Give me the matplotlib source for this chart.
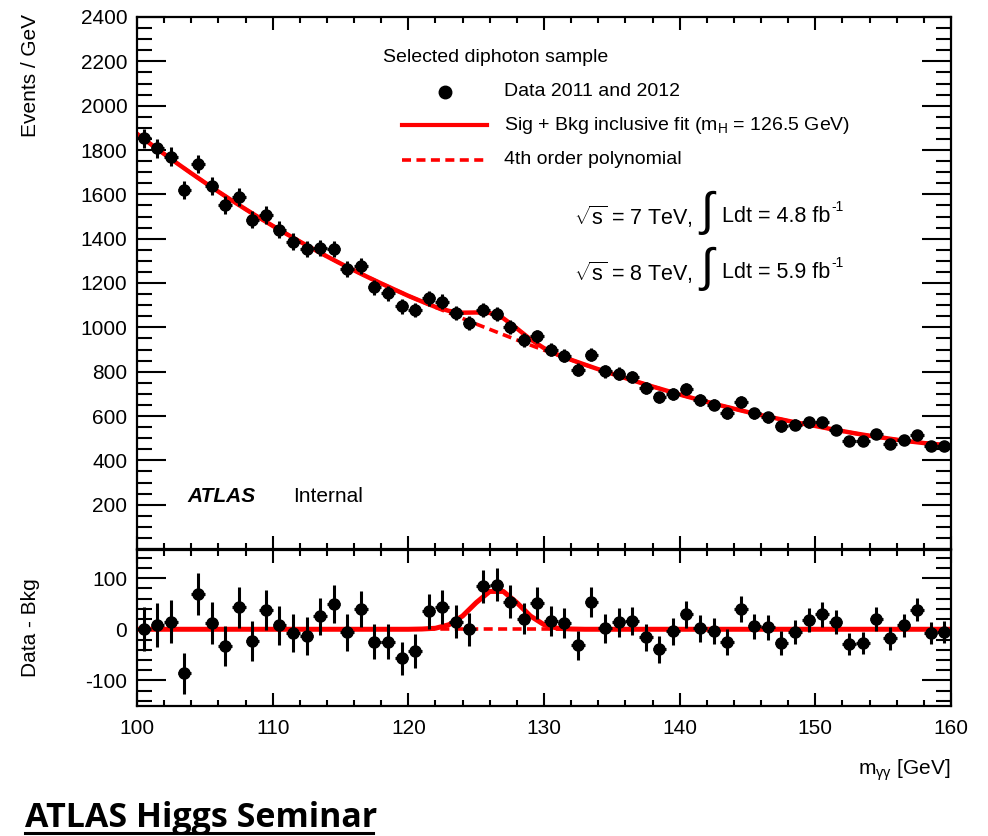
import numpy as np
import matplotlib
matplotlib.use("Agg")
import matplotlib.pyplot as plt
from matplotlib import font_manager
from matplotlib.ticker import MultipleLocator, FuncFormatter
from matplotlib.lines import Line2D

plt.rcParams['font.family'] = ['Liberation Sans', 'DejaVu Sans']
plt.rcParams['mathtext.fontset'] = 'custom'
plt.rcParams['mathtext.rm'] = 'Liberation Sans'
plt.rcParams['mathtext.it'] = 'Liberation Sans:italic'
plt.rcParams['mathtext.bf'] = 'Liberation Sans:bold'
plt.rcParams['mathtext.sf'] = 'Liberation Sans'
plt.rcParams['axes.unicode_minus'] = False

# ---------------- data ----------------
bin_lo, bin_hi = 100, 160
bin_centers = np.arange(bin_lo + 0.5, bin_hi, 1.0)

events = [1853, 1808, 1770, 1620, 1737, 1638, 1552, 1587, 1485, 1507,
          1440, 1387, 1352, 1357, 1353, 1262, 1277, 1181, 1154, 1094,
          1079, 1132, 1116, 1064, 1019, 1079, 1061, 1001, 944, 959,
          900, 872, 809, 876, 801, 791, 776, 726, 684, 699,
          722, 673, 651, 613, 663, 613, 595, 553, 561, 571,
          571, 538, 489, 485, 520, 474, 493, 516, 463, 463]

residuals = [0, 8, 15, -86, 69, 12, -33, 43, -23, 37,
             8, -8, -13, 25, 49, -6, 40, -24, -24, -57,
             -43, 35, 43, 15, 0, 84, 87, 54, 21, 51,
             16, 12, -31, 53, 2, 14, 16, -16, -39, -4,
             29, 2, -3, -25, 40, 6, 4, -27, -6, 18,
             29, 14, -29, -27, 20, -18, 8, 38, -8, -6]

curve_mass = np.arange(100, 161, 1.0)
bkg_curve = [1873, 1827, 1782, 1738, 1695, 1653, 1612, 1572, 1533, 1495,
             1458, 1422, 1387, 1353, 1320, 1288, 1257, 1227, 1198, 1170,
             1142, 1116, 1090, 1065, 1040, 1015, 991, 967, 943, 920,
             897, 875, 853, 832, 811, 791, 771, 752, 733, 715,
             697, 680, 664, 648, 633, 618, 604, 591, 578, 566,
             555, 543, 532, 521, 511, 502, 493, 485, 478, 472, 466]
sig_curve = [0, 0, 0, 0, 0, 0, 0, 0, 0, 0,
             0, 0, 0, 0, 0, 0, 0, 0, 0, 0,
             0, 0.5, 2, 9, 26, 52, 74, 74, 52, 26,
             9, 2, 0.5, 0, 0, 0, 0, 0, 0, 0,
             0, 0, 0, 0, 0, 0, 0, 0, 0, 0,
             0, 0, 0, 0, 0, 0, 0, 0, 0, 0, 0]

events = np.array(events, float)
residuals = np.array(residuals, float)
stat_err = np.sqrt(events)
bkg_curve = np.array(bkg_curve, float)
sig_curve = np.array(sig_curve, float)
total_curve = bkg_curve + sig_curve

# ---------------- figure ----------------
W, H = 988, 836
fig = plt.figure(figsize=(W / 100, H / 100), dpi=100)

def fx(px):
    return px / W

def fy(py):
    return 1 - py / H

left, right = 137, 951
ax1 = fig.add_axes([fx(left), fy(549), fx(right) - fx(left), fy(17) - fy(549)])
ax2 = fig.add_axes([fx(left), fy(706), fx(right) - fx(left), fy(550) - fy(706)])

red = '#ff0000'
tick_fs = 15

for ax in (ax1, ax2):
    ax.set_xlim(bin_lo, bin_hi)
    ax.xaxis.set_major_locator(MultipleLocator(10))
    ax.xaxis.set_minor_locator(MultipleLocator(2))
    ax.tick_params(axis='both', which='both', direction='in', top=True, right=True,
                   labelsize=tick_fs, width=1.5)
    ax.tick_params(axis='x', which='major', length=9.5)
    ax.tick_params(axis='x', which='minor', length=4.5)
    ax.tick_params(axis='y', which='major', length=21, pad=7)
    ax.tick_params(axis='y', which='minor', length=11)
    for s in ax.spines.values():
        s.set_linewidth(1.6)

# top panel
ax1.plot(curve_mass, bkg_curve, color=red, lw=2.6, ls=(0, (2.5, 1.5)), zorder=2)
ax1.plot(curve_mass, total_curve, color=red, lw=3.2, zorder=2)
ax1.errorbar(bin_centers, events, yerr=stat_err, xerr=0.5, fmt='o', color='black',
             ms=8, elinewidth=2.2, capsize=0, zorder=3)
ax1.set_ylim(0, 2400)
ax1.yaxis.set_major_locator(MultipleLocator(200))
ax1.yaxis.set_minor_locator(MultipleLocator(50))
ax1.yaxis.set_major_formatter(FuncFormatter(lambda v, p: '' if v <= 0 else '%d' % v))
ax1.tick_params(axis='x', labelbottom=False)

# bottom panel
ax2.plot(curve_mass, np.zeros_like(curve_mass), color=red, lw=2.6, ls=(0, (2.5, 1.5)), zorder=2)
ax2.plot(curve_mass, sig_curve, color=red, lw=3.6, zorder=2)
ax2.errorbar(bin_centers, residuals, yerr=stat_err, xerr=0.5, fmt='o', color='black',
             ms=8, elinewidth=2.2, capsize=0, zorder=3)
ax2.set_ylim(-150, 155)
ax2.yaxis.set_major_locator(MultipleLocator(100))
ax2.yaxis.set_minor_locator(MultipleLocator(20))
ax2.yaxis.set_major_formatter(FuncFormatter(lambda v, p: '%d' % v))
ax2.tick_params(axis='x', which='major', pad=9)

# axis titles
fig.text(fx(30), fy(14), 'Events / GeV', rotation=90, ha='center', va='top', fontsize=15)
fig.text(fx(30), fy(628), 'Data - Bkg', rotation=90, ha='center', va='center', fontsize=15)
fig.text(fx(950), fy(770), r'm$_{\mathrm{\gamma\gamma}}$ [GeV]', ha='right', va='center', fontsize=15)

# legend (manual)
def afx(px):
    return (px - left) / (right - left)

def afy(py):
    return (549 - py) / (549 - 17)

leg_fs = 14
T = ax1.transAxes
ax1.text(afx(383), afy(58), 'Selected diphoton sample', transform=T, ha='left', va='center', fontsize=leg_fs)
ax1.plot([afx(445)], [afy(92)], 'o', color='black', ms=9, transform=T)
ax1.text(afx(504), afy(92), 'Data 2011 and 2012', transform=T, ha='left', va='center', fontsize=leg_fs)
ax1.plot([afx(402), afx(487)], [afy(125), afy(125)], color=red, lw=3, transform=T)
ax1.text(afx(504), afy(125), r'Sig + Bkg inclusive fit (m$_{\mathrm{H}}$ = 126.5 GeV)', transform=T,
         ha='left', va='center', fontsize=leg_fs)
ax1.plot([afx(402), afx(487)], [afy(160), afy(160)], color=red, lw=2.6, ls=(0, (2.5, 1.5)), transform=T)
ax1.text(afx(504), afy(160), '4th order polynomial', transform=T, ha='left', va='center', fontsize=leg_fs)

lumi_fs = 15.5
for ycen, energy, lumi in ((217, '7', '4.8'), (273, '8', '5.9')):
    ax1.text(afx(574), afy(ycen), r'$\sqrt{\mathrm{s}}$ = %s TeV,' % energy, transform=T,
             ha='left', va='center', fontsize=lumi_fs)
    ax1.text(afx(707), afy(ycen - 4), '\u222b', transform=T, ha='center', va='center', fontsize=34)
    t = ax1.text(afx(722), afy(ycen), 'Ldt = %s fb' % lumi, transform=T,
                 ha='left', va='center', fontsize=lumi_fs)
    ax1.annotate('-1', xy=(1.0, 0.62), xycoords=t, xytext=(1, 0), textcoords='offset points',
                 ha='left', va='bottom', fontsize=10)

ax1.text(afx(187), afy(496), 'ATLAS', transform=T, ha='left', va='center', fontsize=15,
         fontweight='bold', fontstyle='italic')
ax1.text(afx(293), afy(496), 'Internal', transform=T, ha='left', va='center', fontsize=15)

# footer title
def have(name):
    try:
        font_manager.findfont(font_manager.FontProperties(family=name), fallback_to_default=False)
        return True
    except Exception:
        return False

title_family = 'Open Sans'
for cand in ('Liberation Sans Narrow', 'Open Sans'):
    if have(cand):
        title_family = cand
        break

ttl = fig.text(fx(25), fy(827), 'ATLAS Higgs Seminar', ha='left', va='baseline',
               fontsize=24.5, fontweight='bold', family=[title_family, 'DejaVu Sans'])
fig.canvas.draw()
bb = ttl.get_window_extent().transformed(fig.transFigure.inverted())
fig.add_artist(Line2D([bb.x0, bb.x1 - 0.004], [fy(833), fy(833)], transform=fig.transFigure,
                      color='black', lw=2.2))

fig.savefig('out.png', dpi=100)
